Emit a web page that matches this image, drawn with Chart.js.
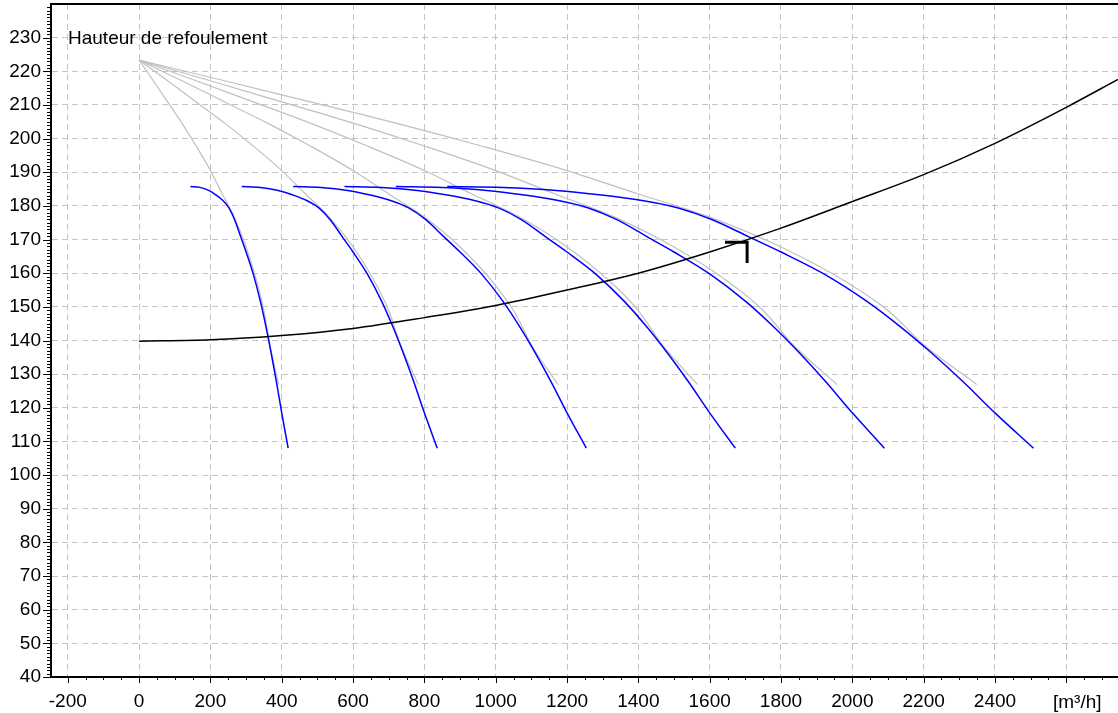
<!DOCTYPE html>
<html>
<head>
<meta charset="utf-8">
<script src="https://cdn.jsdelivr.net/npm/chart.js@4.4.0/dist/chart.umd.min.js"></script>
<style>
  html, body { margin: 0; padding: 0; background: #fff; }
  canvas { display: block; }
</style>
</head>
<body>
<canvas id="myChart" width="1118" height="713"></canvas>
<script>
// tick labels
const xTicks = [-200, 0, 200, 400, 600, 800, 1000, 1200, 1400, 1600, 1800, 2000, 2200, 2400, 2600];
const yTicks = [40, 50, 60, 70, 80, 90, 100, 110, 120, 130, 140, 150, 160, 170, 180, 190, 200, 210, 220, 230];

// system curve (black)
const sysQ = [0, 200, 400, 600, 800, 1000, 1200, 1400, 1600, 1800, 2000, 2200, 2400, 2600, 2745];
const sysH = [139.8, 140.2, 141.5, 143.6, 146.8, 150.4, 155.0, 160.0, 166.3, 173.4, 181.3, 189.3, 198.6, 209.3, 217.6];

// pump curves (blue), 1 to 6 pumps - same heads, flows read per curve
const pumpH = [185.8, 185.5, 184.6, 183.3, 181.6, 179.4, 175.9, 170.8, 166.3, 159.8, 151.7, 144.0, 136.5, 127.8, 118.5, 108.0];
const pump1Q = [144, 170, 195, 215, 235, 252, 268, 285, 300, 320, 340, 356, 370, 385, 400, 418];
const pump2Q = [288, 340, 390, 430, 470, 504, 536, 570, 600, 640, 680, 712, 740, 770, 800, 836];
const pump3Q = [432, 510, 585, 645, 705, 756, 804, 855, 900, 960, 1020, 1068, 1110, 1155, 1200, 1254];
const pump4Q = [576, 680, 780, 860, 940, 1008, 1072, 1140, 1200, 1280, 1360, 1424, 1480, 1540, 1600, 1672];
const pump5Q = [720, 850, 975, 1075, 1175, 1260, 1340, 1425, 1500, 1600, 1700, 1780, 1850, 1925, 2000, 2090];
const pump6Q = [864, 1020, 1170, 1290, 1410, 1512, 1608, 1710, 1800, 1920, 2040, 2136, 2220, 2310, 2400, 2508];

// full curves (gray)
const grayH = [223.3, 217.2, 210.9, 204.6, 197.8, 190.5, 183.6, 176.6, 167.8, 157.6, 148.9, 138.6, 126.9];
const gray1Q = [0, 40, 80, 120, 160, 200, 233, 267, 300, 330, 350, 367, 391.5];
const gray2Q = [0, 80, 160, 240, 320, 400, 466, 534, 600, 660, 700, 734, 783];
const gray3Q = [0, 120, 240, 360, 480, 600, 699, 801, 900, 990, 1050, 1101, 1174.5];
const gray4Q = [0, 160, 320, 480, 640, 800, 932, 1068, 1200, 1320, 1400, 1468, 1566];
const gray5Q = [0, 200, 400, 600, 800, 1000, 1165, 1335, 1500, 1650, 1750, 1835, 1957.5];
const gray6Q = [0, 240, 480, 720, 960, 1200, 1398, 1602, 1800, 1980, 2100, 2202, 2349];

// operating point marker
const markQ = [1643, 1705, 1705];
const markH = [169.2, 169.2, 163.0];

const pts = (q, h) => q.map((v, i) => ({ x: v, y: h[i] }));

function line(q, h, color, width) {
  return {
    data: pts(q, h),
    borderColor: color,
    borderWidth: width,
    pointRadius: 0,
    fill: false,
    cubicInterpolationMode: 'monotone',
  };
}

const datasets = [
  { data: pts(markQ, markH), borderColor: '#000', borderWidth: 3, pointRadius: 0, tension: 0 },
  line(sysQ, sysH, '#000', 1.5),
  line(pump1Q, pumpH, '#0000ff', 1.5),
  line(pump2Q, pumpH, '#0000ff', 1.5),
  line(pump3Q, pumpH, '#0000ff', 1.5),
  line(pump4Q, pumpH, '#0000ff', 1.5),
  line(pump5Q, pumpH, '#0000ff', 1.5),
  line(pump6Q, pumpH, '#0000ff', 1.5),
  line(gray1Q, grayH, '#c0c0c0', 1.2),
  line(gray2Q, grayH, '#c0c0c0', 1.2),
  line(gray3Q, grayH, '#c0c0c0', 1.2),
  line(gray4Q, grayH, '#c0c0c0', 1.2),
  line(gray5Q, grayH, '#c0c0c0', 1.2),
  line(gray6Q, grayH, '#c0c0c0', 1.2),
];

// minor ticks, top border and texts
const frame = {
  id: 'frame',
  afterDraw(chart) {
    const { ctx, chartArea: a, scales: { x, y } } = chart;
    ctx.save();
    ctx.strokeStyle = '#000';
    ctx.lineWidth = 1;
    ctx.beginPath();
    for (let v = 40; v < 240; v += 1) {
      const py = Math.round(y.getPixelForValue(v)) + 0.5;
      const len = v % 10 === 0 ? 8 : 4;
      ctx.moveTo(a.left - len, py);
      ctx.lineTo(a.left + 1, py);
    }
    for (let v = -200; v <= 2700; v += 50) {
      const px = Math.round(x.getPixelForValue(v)) + 0.5;
      const len = v % 200 === 0 ? 6 : 3;
      ctx.moveTo(px, a.bottom - 1);
      ctx.lineTo(px, a.bottom + len);
    }
    ctx.stroke();
    ctx.lineWidth = 2;
    ctx.beginPath();
    ctx.moveTo(a.left, a.top);
    ctx.lineTo(a.right, a.top);
    ctx.stroke();
    ctx.fillStyle = '#000';
    ctx.font = '19px "Liberation Sans", Arial, sans-serif';
    ctx.textBaseline = 'alphabetic';
    ctx.fillText('Hauteur de refoulement', 68, 44);
    ctx.fillText('[m³/h]', 1053, 708);
    ctx.restore();
  }
};

Chart.defaults.font.family = '"Liberation Sans", Arial, sans-serif';
Chart.defaults.font.size = 19;
Chart.defaults.color = '#000';

const config = {
  type: 'line',
  data: { datasets },
  options: {
    responsive: false,
    animation: false,
    layout: { padding: { top: 4, left: 0, right: 0, bottom: 0 } },
    plugins: { legend: { display: false }, tooltip: { enabled: false } },
    scales: {
      x: {
        type: 'linear',
        min: -247,
        max: 2745,
        afterBuildTicks: (s) => { s.ticks = xTicks.map(v => ({ value: v })); },
        afterFit: (s) => { s.height = 36; s.paddingLeft = 0; s.paddingRight = 0; },
        ticks: {
          padding: 13,
          maxRotation: 0,
          autoSkip: false,
          callback: (v) => (v === 2600 ? '' : v),
        },
        grid: { color: '#c4c4c4', lineWidth: 1, drawTicks: false },
        border: { color: '#000', width: 2, dash: [6, 4] },
      },
      y: {
        type: 'linear',
        min: 40,
        max: 240,
        afterBuildTicks: (s) => { s.ticks = yTicks.map(v => ({ value: v })); },
        afterFit: (s) => { s.width = 51; s.paddingTop = 0; s.paddingBottom = 0; },
        ticks: { padding: 10, autoSkip: false },
        grid: { color: '#c4c4c4', lineWidth: 1, drawTicks: false },
        border: { color: '#000', width: 2, dash: [6, 4] },
      },
    },
  },
  plugins: [frame],
};

const myChart = new Chart(document.getElementById('myChart'), config);
</script>
</body>
</html>
